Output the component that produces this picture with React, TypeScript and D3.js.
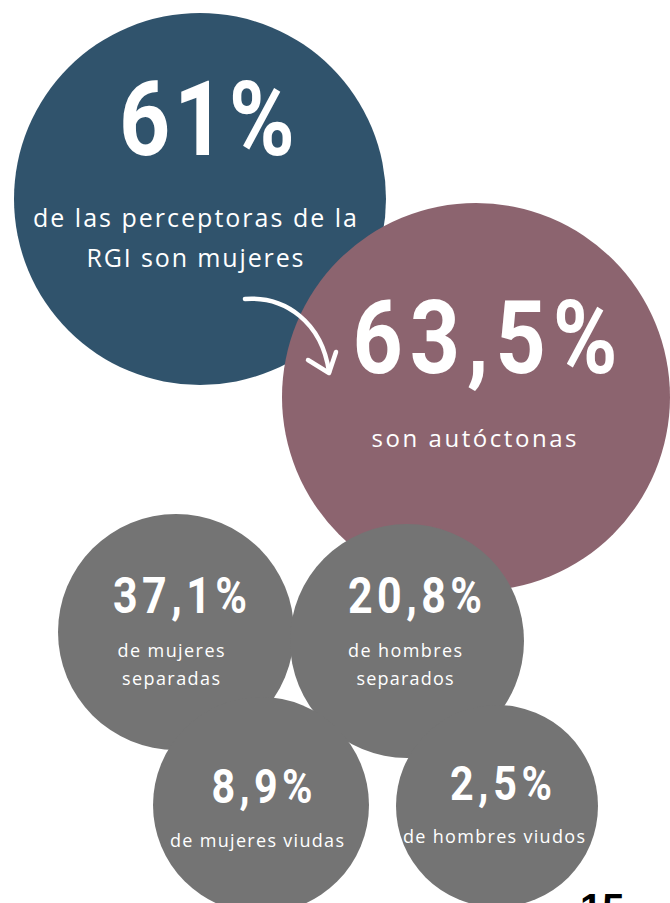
import React from "react";
import * as d3 from "d3";

// ---- data ----
const statValues = [61, 63.5, 37.1, 20.8, 8.9, 2.5];
const statLines = [
  ["de las perceptoras de la", "RGI son mujeres"],
  ["son autóctonas"],
  ["de mujeres", "separadas"],
  ["de hombres", "separados"],
  ["de mujeres viudas"],
  ["de hombres viudos"],
];
const statColors = ["#30536c", "#8c646f", "#747474", "#747474", "#747474", "#747474"];
const pageNumber = "15";

// ---- layout ----
const W = 670;
const H = 903;
const circles = [
  { cx: 200, cy: 199, r: 186 },
  { cx: 476, cy: 397, r: 194 },
  { cx: 176, cy: 632, r: 118 },
  { cx: 407, cy: 641, r: 117 },
  { cx: 261, cy: 805, r: 108 },
  { cx: 497, cy: 806, r: 101 },
];
const bigText = [
  { x: 207, y: 155, size: 104, len: 176 },
  { x: 485, y: 373, size: 102, len: 265 },
  { x: 180, y: 613, size: 50, len: 134 },
  { x: 415, y: 613, size: 50, len: 134 },
  { x: 262, y: 803, size: 48, len: 101 },
  { x: 501, y: 800, size: 48, len: 102 },
];
const smallText = [
  { x: 195, ys: [227, 267], size: 25, lens: [324, 217] },
  { x: 474, ys: [447], size: 24, lens: [205] },
  { x: 171, ys: [657, 685], size: 18, lens: [107, 98] },
  { x: 405, ys: [657, 685], size: 18, lens: [114, 97] },
  { x: 257, ys: [847], size: 18, lens: [174] },
  { x: 494, ys: [843], size: 18, lens: [182] },
];
const SX = 0.86; // horizontal condensation for the big numbers

const esLocale = d3.formatLocale({
  decimal: ",",
  thousands: ".",
  grouping: [3],
  currency: ["", "€"],
});
const fmt = (v: number) =>
  (Number.isInteger(v) ? esLocale.format(".0f")(v) : esLocale.format(".1f")(v)) + "%";

export default function App() {
  const arrow = d3.path();
  arrow.moveTo(245, 299);
  arrow.bezierCurveTo(285, 296, 322, 322, 329, 372);
  const head = d3.path();
  head.moveTo(308, 360);
  head.lineTo(329, 373);
  head.lineTo(336, 352);

  return (
    <svg
      width={W}
      height={H}
      style={{ position: "absolute", left: 0, top: 0, background: "#fff" }}
    >
      {circles.map((c, i) => (
        <circle key={i} cx={c.cx} cy={c.cy} r={c.r} fill={statColors[i]} />
      ))}
      <path d={arrow.toString()} fill="none" stroke="#fff" strokeWidth={4.5} strokeLinecap="round" />
      <path d={head.toString()} fill="none" stroke="#fff" strokeWidth={4.5} strokeLinecap="round" strokeLinejoin="round" />
      {statValues.map((v, i) => (
        <text
          key={"b" + i}
          transform={`translate(${bigText[i].x},${bigText[i].y}) scale(${SX},1)`}
          x={0}
          y={0}
          textAnchor="middle"
          fill="#fff"
          fontFamily="Roboto, sans-serif"
          fontWeight={700}
          fontSize={bigText[i].size}
          textLength={bigText[i].len / SX}
          lengthAdjust="spacing"
        >
          {fmt(v)}
        </text>
      ))}
      {statLines.map((lines, i) =>
        lines.map((line, j) => (
          <text
            key={"s" + i + "-" + j}
            x={smallText[i].x}
            y={smallText[i].ys[j]}
            textAnchor="middle"
            fill="#fff"
            fontFamily="'Open Sans', sans-serif"
            fontWeight={400}
            fontSize={smallText[i].size}
            textLength={smallText[i].lens[j]}
            lengthAdjust="spacing"
          >
            {line}
          </text>
        ))
      )}
      <text
        x={580}
        y={922}
        fill="#000"
        fontFamily="'Liberation Sans', Arial, sans-serif"
        fontWeight={700}
        fontSize={40}
      >
        {pageNumber}
      </text>
    </svg>
  );
}
